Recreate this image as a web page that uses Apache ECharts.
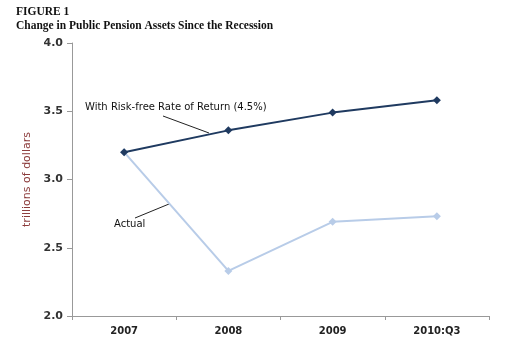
<!DOCTYPE html>
<html><head><meta charset="utf-8">
<script src="https://cdn.jsdelivr.net/npm/echarts@6/dist/echarts.min.js"></script>
<style>html,body{margin:0;padding:0;background:#fff}#c{width:509px;height:360px}</style>
</head><body><div id="c"></div>
<script>
var categories = ['2007', '2008', '2009', '2010:Q3'];
var riskFree = [3.20, 3.36, 3.49, 3.58];
var actual = [3.20, 2.33, 2.69, 2.73];
var yTicks = [2.0, 2.5, 3.0, 3.5, 4.0];

var chart = echarts.init(document.getElementById('c'));
chart.setOption({
  animation: false,
  backgroundColor: '#fff',
  grid: {left: 72, right: 20, top: 43, bottom: 44},
  xAxis: {
    type: 'category', data: categories, boundaryGap: true,
    axisLine: {lineStyle: {color: '#999', width: 1}},
    axisTick: {show: true, length: 4, lineStyle: {color: '#999'}},
    axisLabel: {color: '#222', fontFamily: 'DejaVu Sans', fontSize: 10, fontWeight: 'bold', margin: 10}
  },
  yAxis: {
    type: 'value', min: yTicks[0], max: yTicks[yTicks.length - 1], interval: 0.5,
    name: 'trillions of dollars', nameLocation: 'middle', nameGap: 38, nameRotate: 90,
    nameTextStyle: {color: '#8B3A3A', fontFamily: 'DejaVu Sans', fontSize: 11},
    splitLine: {show: false},
    axisLine: {show: true, lineStyle: {color: '#999'}},
    axisTick: {show: true, length: 5, lineStyle: {color: '#999'}},
    axisLabel: {color: '#333', fontFamily: 'DejaVu Sans', fontSize: 11, fontWeight: 'bold', margin: 9,
      formatter: function (v) { return v.toFixed(1); }}
  },
  series: [
    {name: 'Actual', type: 'line', data: actual, symbol: 'diamond', symbolSize: 8,
      lineStyle: {color: '#B8CCE8', width: 2}, itemStyle: {color: '#B8CCE8'}, z: 2},
    {name: 'With Risk-free Rate of Return (4.5%)', type: 'line', data: riskFree, symbol: 'diamond', symbolSize: 8,
      lineStyle: {color: '#1F3A60', width: 2}, itemStyle: {color: '#1F3A60'}, z: 3}
  ],
  graphic: [
    {type: 'text', left: 16, top: 6, style: {text: 'FIGURE 1', font: 'bold 11.5px "Liberation Serif"', fill: '#111'}},
    {type: 'text', left: 16, top: 20, style: {text: 'Change in Public Pension Assets Since the Recession', font: 'bold 11.5px "Liberation Serif"', fill: '#111'}},
    {type: 'text', left: 85, top: 102, style: {text: 'With Risk-free Rate of Return (4.5%)', font: '10px "DejaVu Sans"', fill: '#111'}},
    {type: 'line', shape: {x1: 163, y1: 116, x2: 209, y2: 133}, style: {stroke: '#222', lineWidth: 1}},
    {type: 'text', left: 114, top: 219, style: {text: 'Actual', font: '10px "DejaVu Sans"', fill: '#111'}},
    {type: 'line', shape: {x1: 135, y1: 218, x2: 169, y2: 204}, style: {stroke: '#222', lineWidth: 1}}
  ]
});
</script></body></html>
